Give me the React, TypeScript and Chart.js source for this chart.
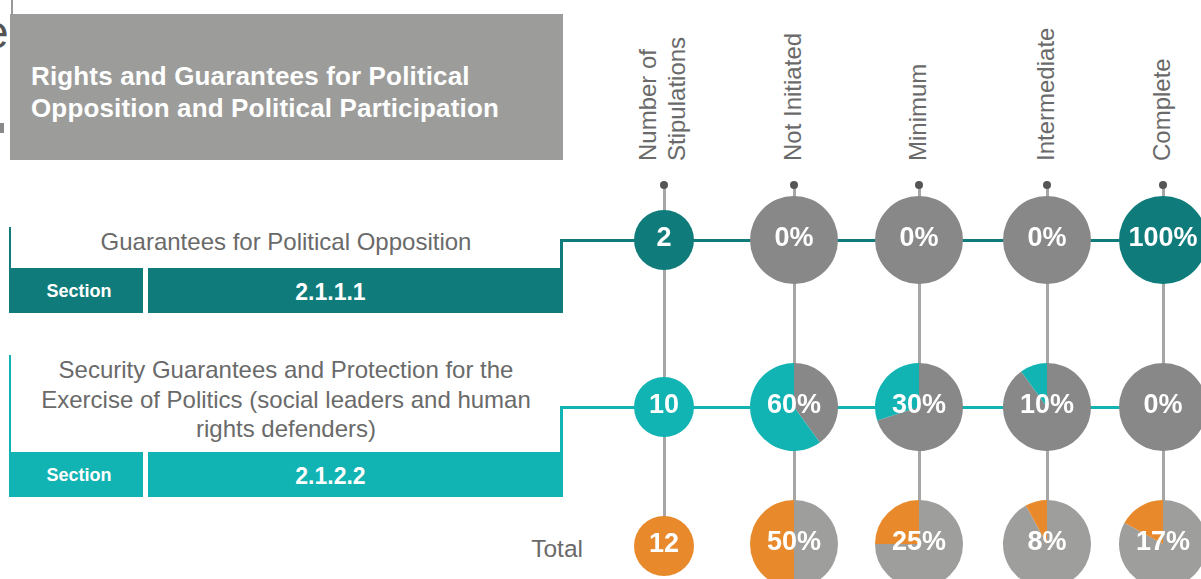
import React, { useEffect, useRef } from "react";
import { Chart, registerables } from "chart.js";

Chart.register(...registerables);

// ---------- data ----------
const columnLabels = ["Number of\nStipulations", "Not Initiated", "Minimum", "Intermediate", "Complete"];
const rowTitles = [
  "Guarantees for Political Opposition",
  "Security Guarantees and Protection for the\nExercise of Politics (social leaders and human\nrights defenders)",
  "Total",
];
const headerTitle = "Rights and Guarantees for Political\nOpposition and Political Participation";
const sectionLabel = "Section";
const sections = ["2.1.1.1", "2.1.2.2"];
const stipulations = [2, 10, 12];
const oppositionPct = [0, 0, 0, 100];
const securityPct = [60, 30, 10, 0];
const totalPct = [50, 25, 8, 17];

// ---------- styles ----------
const DARK_TEAL = "#0f7c7b";
const LIGHT_TEAL = "#12b3b3";
const ORANGE = "#e8892b";
const GRAY = "#888888";
const GRAY_LIGHT = "#9e9e9c";
const TEXT_GRAY = "#6a6a6a";
const FONT = '"Liberation Sans", Arial, Helvetica, sans-serif';

const colX = [664, 794, 919, 1047, 1163];
const rowY = [240, 407, 544];
const PIE_SIZE = 88;
const NUM_SIZE = 60;

type PieProps = {
  cx: number;
  cy: number;
  size: number;
  values: number[];
  colors: string[];
  label: string;
};

function PieMark({ cx, cy, size, values, colors, label }: PieProps) {
  const ref = useRef<HTMLCanvasElement>(null);
  useEffect(() => {
    const chart = new Chart(ref.current as HTMLCanvasElement, {
      type: "pie",
      data: {
        labels: values.map((_, i) => String(i)),
        datasets: [{ data: values, backgroundColor: colors, borderWidth: 0 }],
      },
      options: {
        responsive: false,
        animation: false,
        events: [],
        layout: { padding: 0 },
        plugins: { legend: { display: false }, tooltip: { enabled: false }, title: { display: false } },
      },
      plugins: [
        {
          id: "centerLabel",
          afterDraw(c: any) {
            const ctx = c.ctx;
            ctx.save();
            ctx.fillStyle = "#ffffff";
            ctx.font = `bold 27px ${FONT}`;
            ctx.textAlign = "center";
            ctx.textBaseline = "middle";
            ctx.fillText(label, c.width / 2, c.height / 2 - 1);
            ctx.restore();
          },
        },
      ],
    });
    return () => chart.destroy();
  }, []);
  return (
    <canvas
      ref={ref}
      width={size}
      height={size}
      style={{ position: "absolute", left: cx - size / 2, top: cy - size / 2, width: size, height: size }}
    />
  );
}

const abs = (s: React.CSSProperties): React.CSSProperties => ({ position: "absolute", ...s });

export default function App() {
  const pctRows = [oppositionPct, securityPct, totalPct];
  const rowColors = [
    [GRAY, DARK_TEAL],
    [GRAY, LIGHT_TEAL],
    [GRAY_LIGHT, ORANGE],
  ];
  const numColors = [DARK_TEAL, LIGHT_TEAL, ORANGE];
  const boxColors = [DARK_TEAL, LIGHT_TEAL];
  const boxTop = [268, 452];
  const titleTop = [227, 355];

  return (
    <div
      style={{
        position: "fixed",
        left: 0,
        top: 0,
        width: 1201,
        height: 579,
        overflow: "hidden",
        background: "#fff",
        fontFamily: FONT,
      }}
    >
      {/* cut-off page fragments */}
      <div style={abs({ left: -17, top: 2, fontSize: 46, color: "#555", lineHeight: "60px" })}>e</div>
      <div style={abs({ left: 0, top: 123, width: 4, height: 10, background: "#8a8a8a" })} />
      <div style={abs({ left: 11, top: 0, width: 2, height: 14, background: "#999" })} />

      {/* title box */}
      <div
        style={abs({
          left: 10,
          top: 14,
          width: 553,
          height: 146,
          background: "#9c9c9a",
          color: "#fff",
          fontWeight: "bold",
          fontSize: 26,
          lineHeight: "32px",
          paddingLeft: 21,
          paddingTop: 46,
          boxSizing: "border-box",
          whiteSpace: "pre",
          letterSpacing: "0.15px",
        })}
      >
        {headerTitle}
      </div>

      {/* column headers */}
      {columnLabels.map((lab, i) => {
        const lines = lab.split("\n").length;
        const lh = 29;
        const x = colX[i] - 2 - (lines * lh) / 2;
        return (
          <div
            key={"h" + i}
            style={abs({
              left: 0,
              top: 0,
              transform: `translate(${x}px, 161px) rotate(-90deg)`,
              transformOrigin: "0 0",
              whiteSpace: "pre",
              fontSize: 24,
              lineHeight: lh + "px",
              color: TEXT_GRAY,
            })}
          >
            {lab}
          </div>
        );
      })}

      {/* vertical column lines and dots */}
      {colX.map((x, i) => (
        <React.Fragment key={"v" + i}>
          <div style={abs({ left: x - 1.5, top: 185, width: 3, height: 350, background: "#a6a6a6" })} />
          <div style={abs({ left: x - 4, top: 181, width: 8, height: 8, borderRadius: 4, background: "#555" })} />
        </React.Fragment>
      ))}

      {/* section rows */}
      {sections.map((sec, r) => (
        <React.Fragment key={"s" + r}>
          <div style={abs({ left: 9, top: titleTop[r], width: 2, height: boxTop[r] - titleTop[r], background: boxColors[r] })} />
          <div
            style={abs({
              left: 9,
              top: titleTop[r],
              width: 554,
              textAlign: "center",
              whiteSpace: "pre",
              fontSize: 24,
              lineHeight: r === 0 ? "30px" : "29.5px",
              color: TEXT_GRAY,
            })}
          >
            {rowTitles[r]}
          </div>
          <div
            style={abs({
              left: 9,
              top: boxTop[r],
              width: 134,
              height: 45,
              background: boxColors[r],
              color: "#fff",
              fontWeight: "bold",
              fontSize: 18,
              lineHeight: "47px",
              textAlign: "center",
              paddingLeft: 6,
              boxSizing: "border-box",
            })}
          >
            {sectionLabel}
          </div>
          <div
            style={abs({
              left: 148,
              top: boxTop[r],
              width: 415,
              height: 45,
              background: boxColors[r],
              color: "#fff",
              fontWeight: "bold",
              fontSize: 23,
              lineHeight: "48px",
              textAlign: "center",
              paddingRight: 50,
              boxSizing: "border-box",
            })}
          >
            {sec}
          </div>
          {/* connector */}
          <div style={abs({ left: 559.5, top: rowY[r] - 1.5, width: 3, height: boxTop[r] - rowY[r] + 1.5, background: boxColors[r] })} />
          <div style={abs({ left: 559.5, top: rowY[r] - 1.5, width: 700, height: 3, background: boxColors[r] })} />
        </React.Fragment>
      ))}

      <div style={abs({ left: 480, top: 534, width: 103, textAlign: "right", fontSize: 24.5, lineHeight: "30px", color: TEXT_GRAY })}>
        {rowTitles[2]}
      </div>

      {/* number circles */}
      {stipulations.map((n, r) => (
        <PieMark
          key={"n" + r}
          cx={colX[0]}
          cy={r === 2 ? rowY[r] + 2 : rowY[r]}
          size={NUM_SIZE}
          values={[n]}
          colors={[numColors[r]]}
          label={String(n)}
        />
      ))}

      {/* percentage pies */}
      {pctRows.map((row, r) =>
        row.map((p, c) => (
          <PieMark
            key={`p${r}-${c}`}
            cx={colX[c + 1]}
            cy={rowY[r]}
            size={PIE_SIZE}
            values={[100 - p, p]}
            colors={rowColors[r]}
            label={p + "%"}
          />
        ))
      )}
    </div>
  );
}
